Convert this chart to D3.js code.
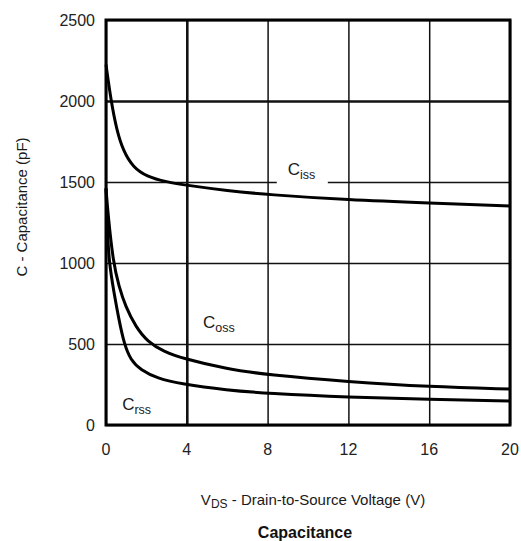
<!DOCTYPE html>
<html>
<head>
<meta charset="utf-8">
<script src="https://cdn.jsdelivr.net/npm/d3@7/dist/d3.min.js"></script>
<style>
  html, body { margin: 0; padding: 0; background: #fff; }
  svg { display: block; font-family: "Liberation Sans", Arial, sans-serif; }
</style>
</head>
<body>
<svg id="chart" width="521" height="541"></svg>
<script>
// Capacitance vs drain-to-source voltage (pF vs V)
const vdsTicks = [0, 4, 8, 12, 16, 20];
const capTicks = [0, 500, 1000, 1500, 2000, 2500];
const boldGridX = [4];
const boldGridY = [2000];

const cissV = [0, 0.25, 0.53, 0.86, 1.35, 2, 3, 4, 6, 8, 12, 16, 20];
const cissC = [2225, 2000, 1820, 1690, 1590, 1535, 1500, 1480, 1446, 1422, 1389, 1370, 1352];

const cossV = [0, 0.1, 0.36, 0.64, 0.97, 1.47, 2.05, 2.87, 3.78, 6, 8, 12, 16, 20];
const cossC = [1460, 1300, 1000, 856, 730, 607, 515, 453, 412, 345, 310, 267, 236, 222];

const crssV = [0, 0.05, 0.15, 0.4, 0.64, 0.89, 1.22, 1.72, 2.54, 3.7, 6, 8, 12, 16, 20];
const crssC = [1460, 1250, 1000, 815, 650, 505, 400, 340, 288, 253, 215, 195, 171, 158, 148];

const seriesNames = [["C", "iss"], ["C", "oss"], ["C", "rss"]];
const labelAt = [[9.0, 1543], [4.8, 599], [0.8, 93]];

const svg = d3.select("#chart");
const plotLeft = 106, plotTop = 20, plotW = 404, plotH = 405;

const x = d3.scaleLinear().domain([0, 20]).range([plotLeft, plotLeft + plotW]);
const y = d3.scaleLinear().domain([0, 2500]).range([plotTop + plotH, plotTop]);

// grid lines
const gx = svg.append("g").attr("transform", `translate(0,${plotTop + plotH})`)
  .call(d3.axisBottom(x).tickValues(vdsTicks).tickSize(-plotH).tickFormat(""));
gx.select(".domain").remove();
gx.selectAll(".tick line")
  .attr("stroke", "#111")
  .attr("stroke-width", d => boldGridX.includes(d) ? 2.6 : 1.5);

const gy = svg.append("g").attr("transform", `translate(${plotLeft},0)`)
  .call(d3.axisLeft(y).tickValues(capTicks).tickSize(-plotW).tickFormat(""));
gy.select(".domain").remove();
gy.selectAll(".tick line")
  .attr("stroke", "#111")
  .attr("stroke-width", d => boldGridY.includes(d) ? 2.6 : 1.5);

// tick labels
svg.append("g").selectAll("text").data(vdsTicks).join("text")
  .attr("x", d => x(d)).attr("y", plotTop + plotH + 30)
  .attr("text-anchor", "middle")
  .attr("font-size", 16).attr("fill", "#222")
  .text(d => d);

svg.append("g").selectAll("text").data(capTicks).join("text")
  .attr("x", plotLeft - 11).attr("y", d => y(d) + 6)
  .attr("text-anchor", "end")
  .attr("font-size", 16).attr("fill", "#222")
  .text(d => d);

// series labels with white backing (breaks the grid line under Ciss)
const lab = svg.append("g");
seriesNames.forEach((n, i) => {
  const [lv, lc] = labelAt[i];
  if (i === 0) {
    lab.append("rect")
      .attr("x", x(lv) - 11).attr("y", y(lc) - 16)
      .attr("width", 51).attr("height", 26)
      .attr("fill", "#fff");
  }
  const t = lab.append("text")
    .attr("x", x(lv)).attr("y", y(lc))
    .attr("fill", "#1a1a1a");
  t.append("tspan").attr("font-size", 17).text(n[0]);
  t.append("tspan").attr("font-size", 12.5).attr("dy", 4).text(n[1]);
});

// curves, B-spline smoothed through the measured points
const line = d3.line()
  .x(d => x(d[0])).y(d => y(d[1]))
  .curve(d3.curveBasis);

[[cissV, cissC], [cossV, cossC], [crssV, crssC]].forEach(([vs, cs]) => {
  svg.append("path")
    .datum(vs.map((v, i) => [v, cs[i]]))
    .attr("d", line)
    .attr("fill", "none")
    .attr("stroke", "#000")
    .attr("stroke-width", 3)
    .attr("stroke-linejoin", "round");
});

// frame
svg.append("rect")
  .attr("x", plotLeft).attr("y", plotTop).attr("width", plotW).attr("height", plotH)
  .attr("fill", "none").attr("stroke", "#000").attr("stroke-width", 3);

// axis titles
const xt = svg.append("text")
  .attr("x", 313).attr("y", 505)
  .attr("text-anchor", "middle").attr("fill", "#1a1a1a");
xt.append("tspan").attr("font-size", 15).text("V");
xt.append("tspan").attr("font-size", 12).attr("dy", 3).text("DS");
xt.append("tspan").attr("font-size", 15).attr("dy", -3).text(" - Drain-to-Source Voltage (V)");

svg.append("text")
  .attr("x", 305).attr("y", 538)
  .attr("text-anchor", "middle")
  .attr("font-size", 16).attr("font-weight", "bold").attr("fill", "#111")
  .text("Capacitance");

svg.append("text")
  .attr("transform", `translate(27,207) rotate(-90)`)
  .attr("text-anchor", "middle")
  .attr("font-size", 15).attr("fill", "#1a1a1a")
  .text("C -  Capacitance (pF)");
</script>
</body>
</html>
